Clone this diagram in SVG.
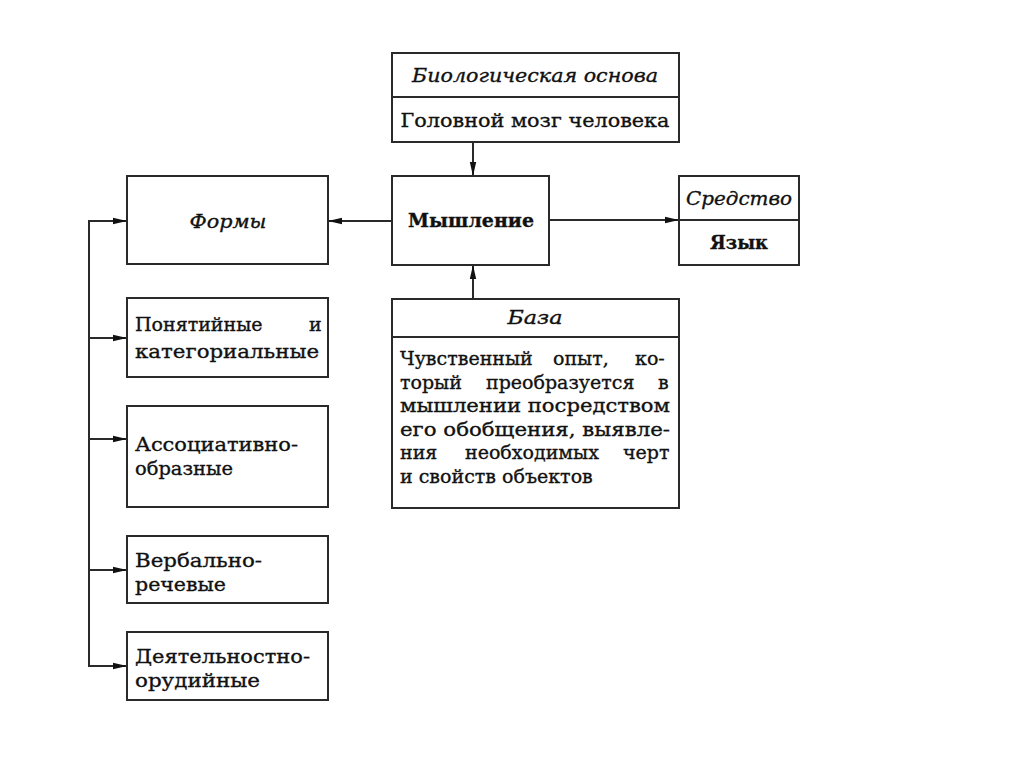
<svg xmlns="http://www.w3.org/2000/svg" width="1024" height="767" viewBox="0 0 1024 767">
<style>
.box{fill:#fff;stroke:#2a2a2a;stroke-width:2}
.ln{fill:none;stroke:#2a2a2a;stroke-width:2}
text{font-family:"DejaVu Serif","Liberation Serif",serif;font-size:19px;fill:#111;stroke:#111;stroke-width:0.35}
.it{font-style:italic}
.b{font-weight:bold}
.c{text-anchor:middle}
</style>
<defs>
<marker id="ah" markerWidth="14" markerHeight="8" refX="13" refY="4" orient="auto" markerUnits="userSpaceOnUse">
<path d="M0,0.8 L14,4 L0,7.2 Z" fill="#111"/>
</marker>
</defs>
<rect width="1024" height="767" fill="#fff"/>
<g id="connectors">
<line class="ln" x1="473" y1="142" x2="473" y2="175" marker-end="url(#ah)"/>
<line class="ln" x1="473" y1="299" x2="473" y2="266" marker-end="url(#ah)"/>
<line class="ln" x1="392" y1="221" x2="329" y2="221" marker-end="url(#ah)"/>
<line class="ln" x1="549" y1="220" x2="678" y2="220" marker-end="url(#ah)"/>
<polyline class="ln" points="89,666 89,221 126,221" marker-end="url(#ah)"/>
<line class="ln" x1="89" y1="338" x2="126" y2="338" marker-end="url(#ah)"/>
<line class="ln" x1="89" y1="439" x2="126" y2="439" marker-end="url(#ah)"/>
<line class="ln" x1="89" y1="570" x2="126" y2="570" marker-end="url(#ah)"/>
<line class="ln" x1="88" y1="666" x2="126" y2="666" marker-end="url(#ah)"/>
</g>
<g id="bio">
<rect class="box" x="392" y="53" width="287" height="89"/>
<line class="ln" x1="392" y1="97" x2="679" y2="97"/>
<text class="it c" x="535" y="82" textLength="246" lengthAdjust="spacingAndGlyphs">Биологическая основа</text>
<text class="c" x="535" y="127" textLength="269" lengthAdjust="spacingAndGlyphs">Головной мозг человека</text>
</g>
<g id="myshlenie">
<rect class="box" x="392" y="176" width="157" height="89"/>
<text class="b c" x="471" y="227" textLength="126" lengthAdjust="spacingAndGlyphs">Мышление</text>
</g>
<g id="sredstvo">
<rect class="box" x="679" y="176" width="120" height="89"/>
<line class="ln" x1="679" y1="220" x2="799" y2="220"/>
<text class="it c" x="739" y="205" textLength="106" lengthAdjust="spacingAndGlyphs">Средство</text>
<text class="b c" x="739" y="249" textLength="58" lengthAdjust="spacingAndGlyphs">Язык</text>
</g>
<g id="formy">
<rect class="box" x="127" y="176" width="201" height="88"/>
<text class="it c" x="228" y="228" textLength="77" lengthAdjust="spacingAndGlyphs">Формы</text>
</g>
<g id="baza">
<rect class="box" x="392" y="299" width="287" height="209"/>
<line class="ln" x1="392" y1="337" x2="679" y2="337"/>
<text class="it c" x="535" y="324" textLength="55" lengthAdjust="spacingAndGlyphs">База</text>
<text y="365"><tspan x="400">Чувственный</tspan> <tspan x="553">опыт,</tspan> <tspan x="635">ко-</tspan></text>
<text y="389"><tspan x="400">торый</tspan> <tspan x="486">преобразуется</tspan> <tspan x="658">в</tspan></text>
<text y="412" textLength="270" lengthAdjust="spacingAndGlyphs" x="400">мышлении посредством</text>
<text y="436" textLength="270" lengthAdjust="spacingAndGlyphs" x="400">его обобщения, выявле-</text>
<text y="459"><tspan x="400">ния</tspan> <tspan x="465">необходимых</tspan> <tspan x="623">черт</tspan></text>
<text x="400" y="483">и свойств объектов</text>
</g>
<g id="ponyat">
<rect class="box" x="127" y="298" width="201" height="79"/>
<text y="331"><tspan x="135">Понятийные</tspan> <tspan x="309">и</tspan></text>
<text x="135" y="358" textLength="184" lengthAdjust="spacingAndGlyphs">категориальные</text>
</g>
<g id="assoc">
<rect class="box" x="127" y="406" width="201" height="101"/>
<text x="135" y="451" textLength="163" lengthAdjust="spacingAndGlyphs">Ассоциативно-</text>
<text x="135" y="475" textLength="98" lengthAdjust="spacingAndGlyphs">образные</text>
</g>
<g id="verbal">
<rect class="box" x="127" y="536" width="201" height="67"/>
<text x="135" y="567" textLength="127" lengthAdjust="spacingAndGlyphs">Вербально-</text>
<text x="135" y="591" textLength="91" lengthAdjust="spacingAndGlyphs">речевые</text>
</g>
<g id="deyat">
<rect class="box" x="127" y="632" width="201" height="68"/>
<text x="135" y="663" textLength="175" lengthAdjust="spacingAndGlyphs">Деятельностно-</text>
<text x="135" y="687" textLength="125" lengthAdjust="spacingAndGlyphs">орудийные</text>
</g>
</svg>
